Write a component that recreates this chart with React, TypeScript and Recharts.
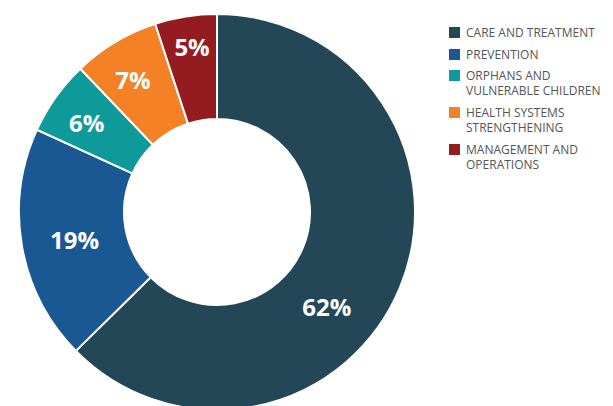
import React from "react";
import { PieChart, Pie, Cell, Legend } from "recharts";

if (typeof document !== "undefined") {
  document.body.style.margin = "0";
}

const categories = [
  "CARE AND TREATMENT",
  "PREVENTION",
  "ORPHANS AND\nVULNERABLE CHILDREN",
  "HEALTH SYSTEMS\nSTRENGTHENING",
  "MANAGEMENT AND\nOPERATIONS",
];
const values = [62, 19, 6, 7, 5];
const labels = ["62%", "19%", "6%", "7%", "5%"];
const colors = ["#234757", "#1A5894", "#0E9A98", "#F48125", "#941C21"];

// label placement tweaks (radius, angle offset in degrees)
const labelRadius = [145, 145, 158, 157, 167];
const labelAngleOffset = [-18, 1, 1, 1.5, -0.5];

const data = categories.map((name, i) => ({ name, value: values[i], label: labels[i] }));

const RAD = Math.PI / 180;

const renderLabel = (props: any) => {
  const { cx, cy, midAngle, index } = props;
  const a = (midAngle + labelAngleOffset[index]) * RAD;
  const r = labelRadius[index];
  const x = cx + r * Math.cos(-a);
  const y = cy + r * Math.sin(-a);
  return (
    <text
      x={x}
      y={y}
      fill="#ffffff"
      textAnchor="middle"
      dominantBaseline="central"
      fontFamily="'Open Sans', sans-serif"
      fontWeight={700}
      fontSize={24}
    >
      {labels[index]}
    </text>
  );
};

const renderLegend = () => (
  <div style={{ fontFamily: "'Open Sans', sans-serif", fontSize: 12, color: "#555555" }}>
    {data.map((d, i) => (
      <div key={i} style={{ display: "flex", alignItems: "flex-start", marginBottom: 6.7 }}>
        <div
          style={{
            width: 11,
            height: 11,
            background: colors[i],
            marginTop: 2,
            marginRight: 6,
            flexShrink: 0,
          }}
        />
        <div style={{ whiteSpace: "pre-line", lineHeight: "15px" }}>{d.name}</div>
      </div>
    ))}
  </div>
);

export default function App() {
  return (
    <div style={{ width: 613, height: 406, background: "#ffffff", position: "relative" }}>
      <PieChart width={613} height={406} margin={{ top: 0, right: 0, bottom: 0, left: 0 }}>
        <Pie
          data={data}
          dataKey="value"
          nameKey="name"
          cx={217}
          cy={212}
          innerRadius={93}
          outerRadius={198}
          startAngle={90}
          endAngle={-270}
          stroke="#ffffff"
          strokeWidth={2}
          label={renderLabel}
          labelLine={false}
          isAnimationActive={false}
        >
          {data.map((d, i) => (
            <Cell key={i} fill={colors[i]} />
          ))}
        </Pie>
        <Legend
          content={renderLegend}
          layout="vertical"
          align="right"
          verticalAlign="top"
          wrapperStyle={{ left: 449, top: 25, width: 164 }}
        />
      </PieChart>
    </div>
  );
}
